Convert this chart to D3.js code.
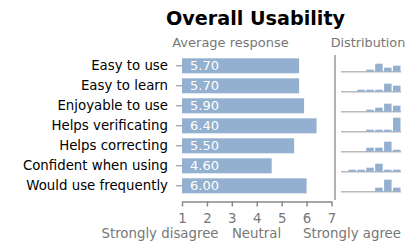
<!DOCTYPE html>
<html>
<head>
<meta charset="utf-8">
<script src="https://cdn.jsdelivr.net/npm/d3@7"></script>
<style>
  body { margin: 0; background: #fff; }
  svg { font-family: "DejaVu Sans", sans-serif; }
</style>
</head>
<body>
<div id="chart"></div>
<script>
// data
const items = ["Easy to use", "Easy to learn", "Enjoyable to use", "Helps verificating",
  "Helps correcting", "Confident when using", "Would use frequently"];
const means = [5.7, 5.7, 5.9, 6.4, 5.5, 4.6, 6.0];
// answer counts for the scores 1..7
const counts = [
  [0, 0, 0, 1, 4, 2, 3],
  [0, 0, 1, 1, 1, 4, 3],
  [0, 0, 0, 1, 2, 4, 3],
  [0, 0, 0, 1, 1, 1, 7],
  [0, 0, 0, 2, 2, 5, 1],
  [0, 1, 1, 2, 4, 1, 1],
  [0, 0, 0, 0, 2, 6, 2]
];
const scores = [1, 2, 3, 4, 5, 6, 7];
const anchorLabels = ["Strongly disagree", "Neutral", "Strongly agree"];

// dimensions
const width = 410;
const height = 250;
const fontSize = 13.33;
const barColor = "#93b0d0";
const gray = "#888";
const textGray = "#777";

const svg = d3.select("#chart").append("svg")
  .attr("width", width)
  .attr("height", height);

const x = d3.scaleLinear().domain([1, 7]).range([182, 331.5]);
const y = d3.scaleBand().domain(items).range([55.8, 195.8])
  .paddingInner(0.25).paddingOuter(0.125);

// title + headers
svg.append("text")
  .attr("x", 255.5).attr("y", 25)
  .attr("text-anchor", "middle")
  .attr("font-size", 19.2).attr("font-weight", "bold")
  .attr("fill", "#000")
  .text("Overall Usability");

svg.append("text")
  .attr("x", 230.5).attr("y", 47)
  .attr("text-anchor", "middle")
  .attr("font-size", 13).attr("fill", textGray)
  .text("Average response");

svg.append("text")
  .attr("x", 368).attr("y", 47)
  .attr("text-anchor", "middle")
  .attr("font-size", 12.8).attr("fill", textGray)
  .text("Distribution");

// bars
svg.selectAll("rect.bar")
  .data(items)
  .join("rect")
  .attr("class", "bar")
  .attr("x", x(1))
  .attr("y", d => y(d))
  .attr("width", (d, i) => x(means[i]) - x(1))
  .attr("height", y.bandwidth())
  .attr("fill", barColor);

svg.selectAll("text.val")
  .data(items)
  .join("text")
  .attr("class", "val")
  .attr("x", x(1) + 8)
  .attr("y", d => y(d) + y.bandwidth() / 2)
  .attr("dy", "0.36em")
  .attr("font-size", 13)
  .attr("fill", "#fff")
  .text((d, i) => means[i].toFixed(2));

// left axis
const yAxis = svg.append("g")
  .attr("transform", `translate(${x(1)},0)`)
  .call(d3.axisLeft(y).tickSize(6).tickPadding(8));
yAxis.select(".domain").remove();
yAxis.selectAll("line").attr("stroke", gray);
yAxis.selectAll("text").attr("font-size", fontSize).attr("fill", "#000")
  .attr("font-family", "DejaVu Sans");

// bottom axis
const axisY = 201.5;
const xAxis = svg.append("g")
  .attr("transform", `translate(0,${axisY})`)
  .call(d3.axisBottom(x).tickValues(scores).tickFormat(d3.format("d"))
    .tickSize(5).tickSizeOuter(0).tickPadding(7));
xAxis.select(".domain").attr("stroke", gray).attr("stroke-width", 1.5);
xAxis.selectAll("line").attr("stroke", gray).attr("stroke-width", 1.5);
xAxis.selectAll("text").attr("font-size", fontSize).attr("fill", textGray)
  .attr("font-family", "DejaVu Sans");

const anchorPos = [160, 256.5, 352];
svg.selectAll("text.anchor")
  .data(anchorLabels)
  .join("text")
  .attr("class", "anchor")
  .attr("x", (d, i) => anchorPos[i])
  .attr("y", 238)
  .attr("text-anchor", "middle")
  .attr("font-size", fontSize)
  .attr("fill", textGray)
  .text(d => d);

// separator
svg.append("line")
  .attr("x1", 335).attr("x2", 335)
  .attr("y1", 55).attr("y2", 200)
  .attr("stroke", "#999").attr("stroke-width", 1.5);

// distribution sparklines
const xb = d3.scaleBand().domain(scores).range([339.5, 400.5]).paddingInner(0.16);
const hb = d3.scaleLinear().domain([0, 7]).range([0, 14]);

items.forEach((item, i) => {
  const base = y(item) + y.bandwidth() - 1.6;
  const g = svg.append("g");
  g.append("line")
    .attr("x1", 341).attr("x2", 401)
    .attr("y1", base).attr("y2", base)
    .attr("stroke", "#bbb").attr("stroke-width", 1.5);
  g.selectAll("rect")
    .data(scores.map((s, j) => ({ s, c: counts[i][j] })).filter(d => d.c > 0))
    .join("rect")
    .attr("x", d => xb(d.s))
    .attr("y", d => base - hb(d.c))
    .attr("width", xb.bandwidth())
    .attr("height", d => hb(d.c))
    .attr("fill", barColor);
});
</script>
</body>
</html>
